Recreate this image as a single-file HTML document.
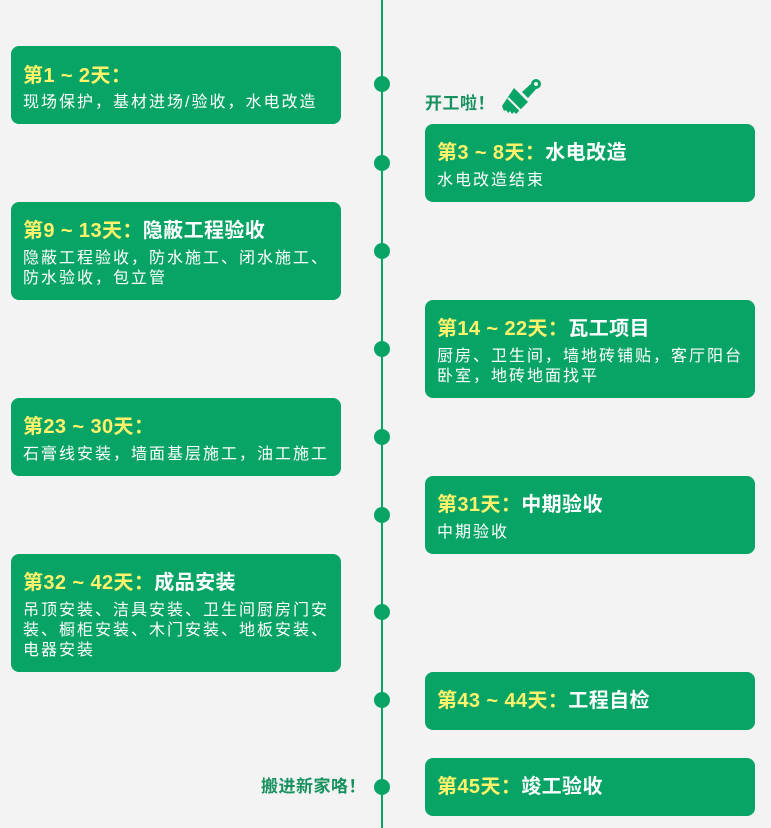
<!DOCTYPE html>
<html><head><meta charset="utf-8"><style>
*{margin:0;padding:0;box-sizing:border-box}
body{width:771px;height:828px;background:#f3f3f3;position:relative;overflow:hidden;font-family:"Liberation Sans","Noto Sans CJK SC",sans-serif}
.line{position:absolute;left:381px;top:0;width:2px;height:828px;background:#08a466}
.dot{position:absolute;left:374px;width:16px;height:16px;border-radius:50%;background:#08a466}
.box{position:absolute;width:330px;background:#08a466;border-radius:8px;color:#fff;padding-left:12px;white-space:nowrap}
.L{left:11px}.R{left:425px}
.t{position:absolute;left:12px;font-size:20px;font-weight:bold;line-height:24px;color:#fff;letter-spacing:0.4px}
.t .y{color:#fff36b}
.b{position:absolute;left:12px;font-size:16px;line-height:20px;letter-spacing:2px}
.lbl{position:absolute;font-size:17px;font-weight:bold;color:#17915e;line-height:20px;letter-spacing:0.5px}
</style></head><body>
<div class="line"></div>
<div class="dot" style="top:76px"></div>
<div class="dot" style="top:155px"></div>
<div class="dot" style="top:243px"></div>
<div class="dot" style="top:341px"></div>
<div class="dot" style="top:429px"></div>
<div class="dot" style="top:507px"></div>
<div class="dot" style="top:604px"></div>
<div class="dot" style="top:692px"></div>
<div class="dot" style="top:779px"></div>

<div class="box L" style="top:46px;height:78px"><div class="t" style="top:18px"><span class="y">第1 ~ 2天：</span></div><div class="b" style="top:47px">现场保护，基材进场/验收，水电改造</div></div>

<div class="lbl" style="left:425px;top:94px">开工啦！</div>
<svg style="position:absolute;left:500px;top:76px" width="44" height="44" viewBox="0 0 44 44"><g fill="#08a466"><path d="M14 12 L28 26 L16 38 L14 36 L12 38 L10 35 L8 37 L6 34 L4 35 L2 30 Z"/><path d="M22 16 L33 6 L38 11 L28 22 Z"/><circle cx="36" cy="8" r="5"/></g><circle cx="36" cy="8" r="2" fill="#f3f3f3"/><path d="M8 22 L22 36" stroke="#f3f3f3" stroke-width="2"/></svg>

<div class="box R" style="top:124px;height:78px"><div class="t" style="top:17px"><span class="y">第3 ~ 8天：</span>水电改造</div><div class="b" style="top:47px">水电改造结束</div></div>

<div class="box L" style="top:202px;height:98px"><div class="t" style="top:17px"><span class="y">第9 ~ 13天：</span>隐蔽工程验收</div><div class="b" style="top:47px">隐蔽工程验收，防水施工、闭水施工、<br>防水验收，包立管</div></div>

<div class="box R" style="top:300px;height:98px"><div class="t" style="top:17px"><span class="y">第14 ~ 22天：</span>瓦工项目</div><div class="b" style="top:47px">厨房、卫生间，墙地砖铺贴，客厅阳台<br>卧室，地砖地面找平</div></div>

<div class="box L" style="top:398px;height:78px"><div class="t" style="top:17px"><span class="y">第23 ~ 30天：</span></div><div class="b" style="top:47px">石膏线安装，墙面基层施工，油工施工</div></div>

<div class="box R" style="top:476px;height:78px"><div class="t" style="top:17px"><span class="y">第31天：</span>中期验收</div><div class="b" style="top:47px">中期验收</div></div>

<div class="box L" style="top:554px;height:118px"><div class="t" style="top:17px"><span class="y">第32 ~ 42天：</span>成品安装</div><div class="b" style="top:47px">吊顶安装、洁具安装、卫生间厨房门安<br>装、橱柜安装、木门安装、地板安装、<br>电器安装</div></div>

<div class="box R" style="top:672px;height:58px"><div class="t" style="top:17px"><span class="y">第43 ~ 44天：</span>工程自检</div></div>

<div class="lbl" style="left:261px;top:777px">搬进新家咯！</div>
<div class="box R" style="top:758px;height:58px"><div class="t" style="top:17px"><span class="y">第45天：</span>竣工验收</div></div>
</body></html>
